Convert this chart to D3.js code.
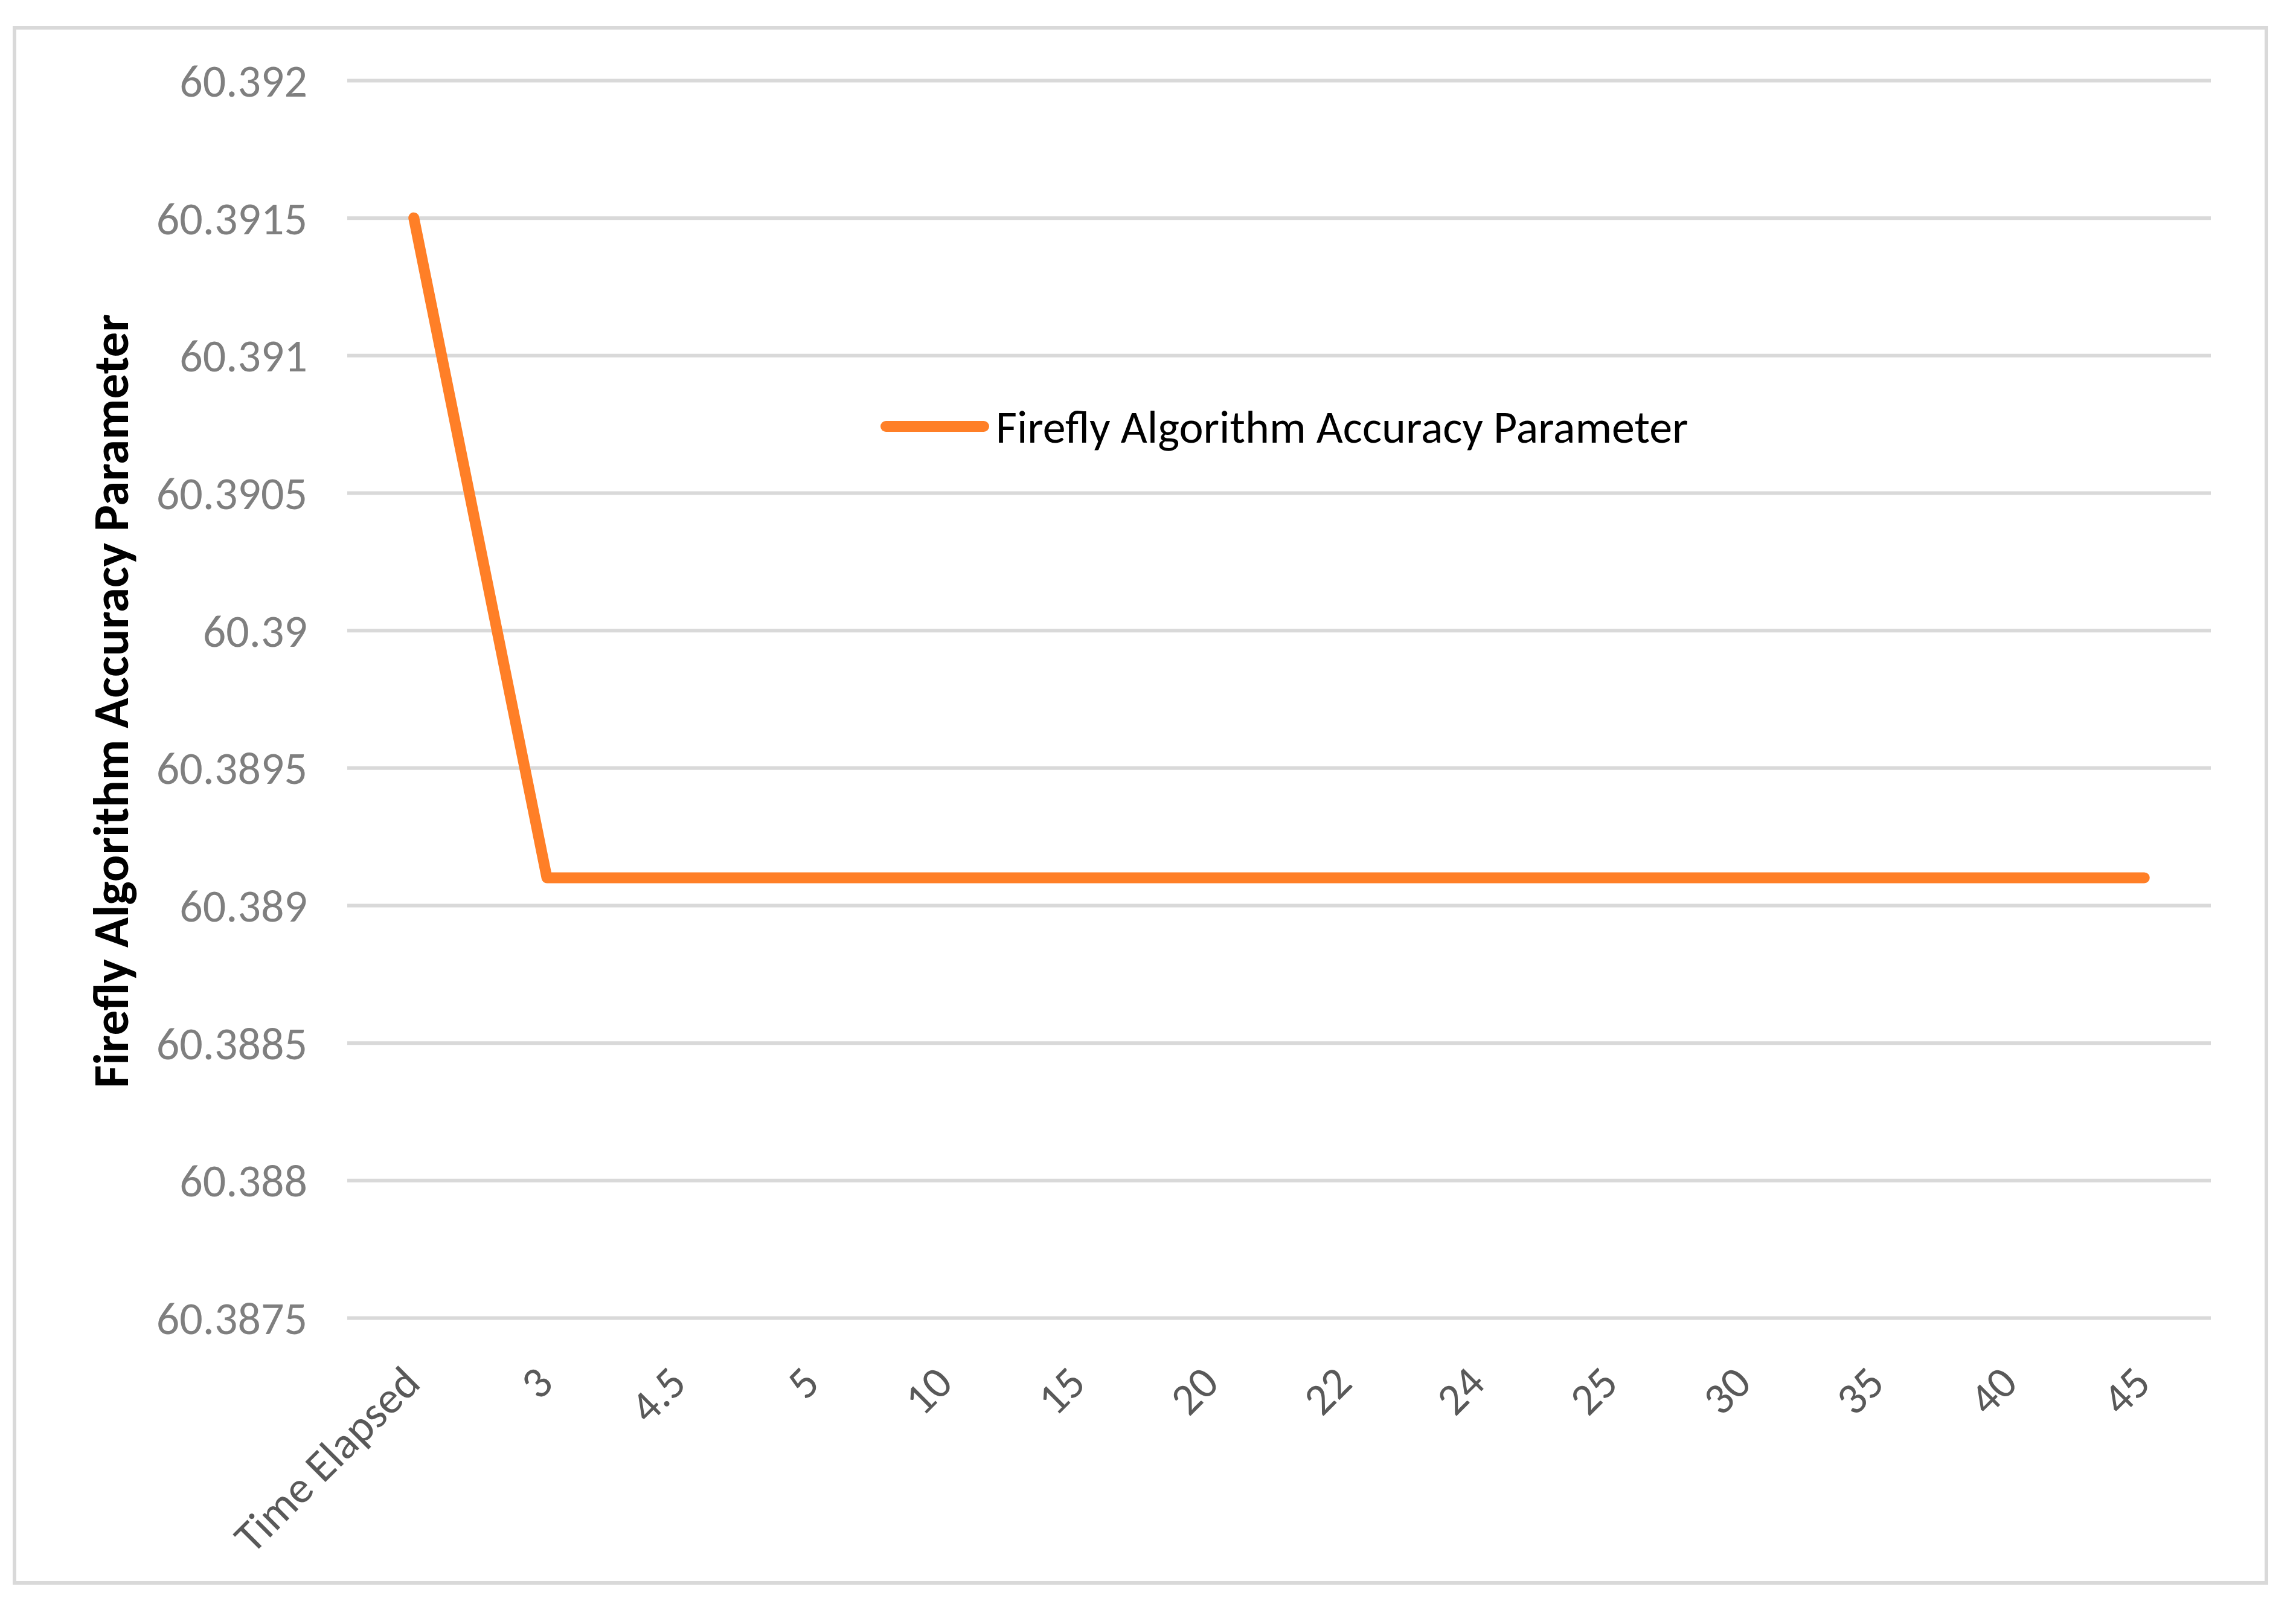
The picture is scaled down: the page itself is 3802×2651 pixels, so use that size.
<!DOCTYPE html>
<html>
<head>
<meta charset="utf-8">
<script src="https://cdn.jsdelivr.net/npm/d3@7/dist/d3.min.js"></script>
<style>
	html, body { margin:0; padding:0; background:#fff; }
	svg { display:block; overflow:visible; }
	text { font-family: Calibri, Carlito, Lato, sans-serif; }
</style>
</head>
<body>
<svg id="chart-1"></svg>
<script>
// Data
const categories = ['Time Elapsed','3','4.5','5','10','15','20','22','24','25','30','35','40','45'];
const accuracy = [60.3915, 60.3891, 60.3891, 60.3891, 60.3891, 60.3891, 60.3891,
	60.3891, 60.3891, 60.3891, 60.3891, 60.3891, 60.3891, 60.3891];
const yTicks = [60.3875, 60.388, 60.3885, 60.389, 60.3895, 60.39, 60.3905, 60.391, 60.3915, 60.392];
const yTickLabels = ['60.3875','60.388','60.3885','60.389','60.3895','60.39','60.3905','60.391','60.3915','60.392'];
const seriesName = 'Firefly Algorithm Accuracy Parameter';
const yTitle = 'Firefly Algorithm Accuracy Parameter';

const width = 3802;
const height = 2651;
const ORANGE = '#ff7f27';
const GRID = '#d9d9d9';
const FONT = 'Calibri, Carlito, Lato, sans-serif';

// Margin convention: plot area
const margin = {top:133, right:141, bottom:469, left:575};
const innerWidth = width - margin.left - margin.right;
const innerHeight = height - margin.top - margin.bottom;

const svg = d3.select('svg#chart-1')
	.attr('width', width)
	.attr('height', height);

// outer chart border
svg.append('rect')
	.attr('x', 24).attr('y', 46)
	.attr('width', 3729).attr('height', 2575)
	.attr('fill', 'none')
	.attr('stroke', GRID)
	.attr('stroke-width', 6);

const g = svg.append('g')
	.attr('transform', `translate(${margin.left},${margin.top})`);

const x = d3.scaleBand()
	.domain(categories)
	.range([0, innerWidth]);

const y = d3.scaleLinear()
	.domain([60.3875, 60.392])
	.range([innerHeight, 0]);

// y axis with gridlines
const yAxis = g.append('g')
	.call(d3.axisLeft(y)
		.tickValues(yTicks)
		.tickFormat((d,i) => yTickLabels[i])
		.tickSize(-innerWidth)
		.tickPadding(66));
yAxis.select('.domain').remove();
yAxis.selectAll('.tick line')
	.attr('stroke', GRID)
	.attr('stroke-width', 6);
yAxis.selectAll('.tick text')
	.attr('fill', '#7f7f7f')
	.attr('font-size', 76)
	.attr('dy', '0.35em')
	.style('font-family', FONT);

// x axis, rotated labels
const xAxis = g.append('g')
	.attr('transform', `translate(0,${innerHeight})`)
	.call(d3.axisBottom(x).tickSize(0));
xAxis.select('.domain').remove();
xAxis.selectAll('.tick text')
	.attr('fill', '#595959')
	.attr('font-size', 74)
	.attr('text-anchor', 'end')
	.attr('x', 0).attr('y', 0).attr('dy', 0)
	.attr('transform', 'translate(14,112) rotate(-45)')
	.style('font-family', FONT);

// series line
const line = d3.line()
	.x((d,i) => x(categories[i]) + x.bandwidth()/2)
	.y(d => y(d));

g.append('path')
	.datum(accuracy)
	.attr('fill', 'none')
	.attr('stroke', ORANGE)
	.attr('stroke-width', 18)
	.attr('stroke-linejoin', 'round')
	.attr('stroke-linecap', 'round')
	.attr('d', line);

// legend
const legend = svg.append('g').attr('transform', 'translate(1467,706)');
legend.append('line')
	.attr('x1', 0).attr('x2', 162)
	.attr('y1', 0).attr('y2', 0)
	.attr('stroke', ORANGE)
	.attr('stroke-width', 18)
	.attr('stroke-linecap', 'round');
legend.append('text')
	.attr('x', 182).attr('y', 0)
	.attr('dy', '0.35em')
	.attr('font-size', 76)
	.attr('fill', '#000')
	.text(seriesName);

// y axis title
svg.append('text')
	.attr('transform', 'translate(212,1161) rotate(-90)')
	.attr('text-anchor', 'middle')
	.attr('font-size', 83)
	.attr('font-weight', 'bold')
	.attr('fill', '#000')
	.text(yTitle);
</script>
</body>
</html>
